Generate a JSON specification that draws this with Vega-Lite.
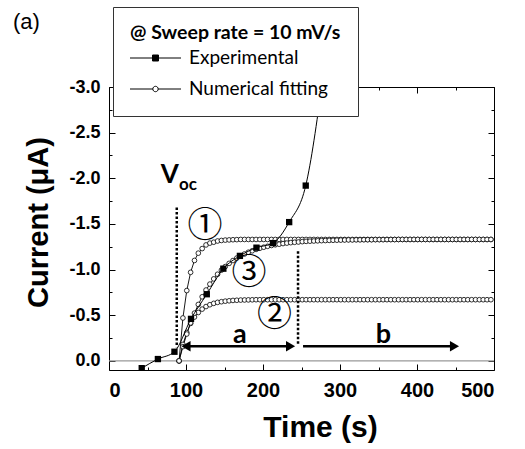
{
"$schema": "https://vega.github.io/schema/vega-lite/v6.json",
"width": 385, "height": 283,
"autosize": {"type": "none"},
"padding": {"left": 109, "top": 87, "right": 31, "bottom": 79},
"background": "white",
"config": {"view": {"stroke": "black", "strokeWidth": 1}},
"datasets": {
"exp": [{"t":42.5,"v":0.08},{"t":63.5,"v":-0.02},{"t":85,"v":-0.1},{"t":106.5,"v":-0.46},{"t":127,"v":-0.73},{"t":148.5,"v":-1.01},{"t":170,"v":-1.15},{"t":191.5,"v":-1.24},{"t":213,"v":-1.29},{"t":234,"v":-1.52},{"t":255.5,"v":-1.92},{"t":277,"v":-3.05}],
"fit": [
{"c":1,"t":91,"v":0},{"c":1,"t":96,"v":-0.47},{"c":1,"t":101,"v":-0.77},{"c":1,"t":106,"v":-0.97},{"c":1,"t":111,"v":-1.1},{"c":1,"t":116,"v":-1.18},{"c":1,"t":121,"v":-1.23},{"c":1,"t":126,"v":-1.27},{"c":1,"t":131,"v":-1.29},{"c":1,"t":136,"v":-1.3},{"c":1,"t":141,"v":-1.313},{"c":1,"t":146,"v":-1.319},{"c":1,"t":151,"v":-1.323},{"c":1,"t":156,"v":-1.325},{"c":1,"t":161,"v":-1.327},{"c":1,"t":166,"v":-1.328},
{"c":1,"t":171,"v":-1.33},{"c":1,"t":176,"v":-1.33},{"c":1,"t":181,"v":-1.33},{"c":1,"t":186,"v":-1.33},{"c":1,"t":191,"v":-1.33},{"c":1,"t":196,"v":-1.33},{"c":1,"t":201,"v":-1.33},{"c":1,"t":206,"v":-1.33},{"c":1,"t":211,"v":-1.33},{"c":1,"t":216,"v":-1.33},{"c":1,"t":221,"v":-1.33},{"c":1,"t":226,"v":-1.33},{"c":1,"t":231,"v":-1.33},{"c":1,"t":236,"v":-1.33},{"c":1,"t":241,"v":-1.33},{"c":1,"t":246,"v":-1.33},{"c":1,"t":251,"v":-1.33},{"c":1,"t":256,"v":-1.33},{"c":1,"t":261,"v":-1.33},{"c":1,"t":266,"v":-1.33},{"c":1,"t":271,"v":-1.33},{"c":1,"t":276,"v":-1.33},{"c":1,"t":281,"v":-1.33},{"c":1,"t":286,"v":-1.33},{"c":1,"t":291,"v":-1.33},{"c":1,"t":296,"v":-1.33},{"c":1,"t":301,"v":-1.33},{"c":1,"t":306,"v":-1.33},{"c":1,"t":311,"v":-1.33},{"c":1,"t":316,"v":-1.33},{"c":1,"t":321,"v":-1.33},{"c":1,"t":326,"v":-1.33},{"c":1,"t":331,"v":-1.33},{"c":1,"t":336,"v":-1.33},{"c":1,"t":341,"v":-1.33},{"c":1,"t":346,"v":-1.33},{"c":1,"t":351,"v":-1.33},{"c":1,"t":356,"v":-1.33},{"c":1,"t":361,"v":-1.33},{"c":1,"t":366,"v":-1.33},{"c":1,"t":371,"v":-1.33},{"c":1,"t":376,"v":-1.33},{"c":1,"t":381,"v":-1.33},{"c":1,"t":386,"v":-1.33},{"c":1,"t":391,"v":-1.33},{"c":1,"t":396,"v":-1.33},{"c":1,"t":401,"v":-1.33},{"c":1,"t":406,"v":-1.33},{"c":1,"t":411,"v":-1.33},{"c":1,"t":416,"v":-1.33},{"c":1,"t":421,"v":-1.33},{"c":1,"t":426,"v":-1.33},{"c":1,"t":431,"v":-1.33},{"c":1,"t":436,"v":-1.33},{"c":1,"t":441,"v":-1.33},{"c":1,"t":446,"v":-1.33},{"c":1,"t":451,"v":-1.33},{"c":1,"t":456,"v":-1.33},{"c":1,"t":461,"v":-1.33},{"c":1,"t":466,"v":-1.33},{"c":1,"t":471,"v":-1.33},{"c":1,"t":476,"v":-1.33},{"c":1,"t":481,"v":-1.33},{"c":1,"t":486,"v":-1.33},{"c":1,"t":491,"v":-1.33},{"c":1,"t":496,"v":-1.33},
{"c":2,"t":91,"v":0},{"c":2,"t":96,"v":-0.18},{"c":2,"t":101,"v":-0.31},{"c":2,"t":106,"v":-0.41},{"c":2,"t":111,"v":-0.48},{"c":2,"t":116,"v":-0.53},{"c":2,"t":121,"v":-0.567},{"c":2,"t":126,"v":-0.595},{"c":2,"t":131,"v":-0.615},{"c":2,"t":136,"v":-0.63},{"c":2,"t":141,"v":-0.641},{"c":2,"t":146,"v":-0.648},{"c":2,"t":151,"v":-0.654},{"c":2,"t":156,"v":-0.658},{"c":2,"t":161,"v":-0.662},{"c":2,"t":166,"v":-0.664},{"c":2,"t":171,"v":-0.666},{"c":2,"t":176,"v":-0.667},{"c":2,"t":181,"v":-0.668},{"c":2,"t":186,"v":-0.669},
{"c":2,"t":191,"v":-0.67},{"c":2,"t":196,"v":-0.67},{"c":2,"t":201,"v":-0.67},{"c":2,"t":206,"v":-0.67},{"c":2,"t":211,"v":-0.67},{"c":2,"t":216,"v":-0.67},{"c":2,"t":221,"v":-0.67},{"c":2,"t":226,"v":-0.67},{"c":2,"t":231,"v":-0.67},{"c":2,"t":236,"v":-0.67},{"c":2,"t":241,"v":-0.67},{"c":2,"t":246,"v":-0.67},{"c":2,"t":251,"v":-0.67},{"c":2,"t":256,"v":-0.67},{"c":2,"t":261,"v":-0.67},{"c":2,"t":266,"v":-0.67},{"c":2,"t":271,"v":-0.67},{"c":2,"t":276,"v":-0.67},{"c":2,"t":281,"v":-0.67},{"c":2,"t":286,"v":-0.67},{"c":2,"t":291,"v":-0.67},{"c":2,"t":296,"v":-0.67},{"c":2,"t":301,"v":-0.67},{"c":2,"t":306,"v":-0.67},{"c":2,"t":311,"v":-0.67},{"c":2,"t":316,"v":-0.67},{"c":2,"t":321,"v":-0.67},{"c":2,"t":326,"v":-0.67},{"c":2,"t":331,"v":-0.67},{"c":2,"t":336,"v":-0.67},{"c":2,"t":341,"v":-0.67},{"c":2,"t":346,"v":-0.67},{"c":2,"t":351,"v":-0.67},{"c":2,"t":356,"v":-0.67},{"c":2,"t":361,"v":-0.67},{"c":2,"t":366,"v":-0.67},{"c":2,"t":371,"v":-0.67},{"c":2,"t":376,"v":-0.67},{"c":2,"t":381,"v":-0.67},{"c":2,"t":386,"v":-0.67},{"c":2,"t":391,"v":-0.67},{"c":2,"t":396,"v":-0.67},{"c":2,"t":401,"v":-0.67},{"c":2,"t":406,"v":-0.67},{"c":2,"t":411,"v":-0.67},{"c":2,"t":416,"v":-0.67},{"c":2,"t":421,"v":-0.67},{"c":2,"t":426,"v":-0.67},{"c":2,"t":431,"v":-0.67},{"c":2,"t":436,"v":-0.67},{"c":2,"t":441,"v":-0.67},{"c":2,"t":446,"v":-0.67},{"c":2,"t":451,"v":-0.67},{"c":2,"t":456,"v":-0.67},{"c":2,"t":461,"v":-0.67},{"c":2,"t":466,"v":-0.67},{"c":2,"t":471,"v":-0.67},{"c":2,"t":476,"v":-0.67},{"c":2,"t":481,"v":-0.67},{"c":2,"t":486,"v":-0.67},{"c":2,"t":491,"v":-0.67},{"c":2,"t":496,"v":-0.67},
{"c":3,"t":91,"v":0},{"c":3,"t":96,"v":-0.156},{"c":3,"t":101,"v":-0.294},{"c":3,"t":106,"v":-0.416},{"c":3,"t":111,"v":-0.523},{"c":3,"t":116,"v":-0.618},{"c":3,"t":121,"v":-0.702},{"c":3,"t":126,"v":-0.776},{"c":3,"t":131,"v":-0.841},{"c":3,"t":136,"v":-0.898},{"c":3,"t":141,"v":-0.949},{"c":3,"t":146,"v":-0.994},{"c":3,"t":151,"v":-1.033},{"c":3,"t":156,"v":-1.068},{"c":3,"t":161,"v":-1.099},{"c":3,"t":166,"v":-1.126},{"c":3,"t":171,"v":-1.15},{"c":3,"t":176,"v":-1.171},{"c":3,"t":181,"v":-1.19},{"c":3,"t":186,"v":-1.206},{"c":3,"t":191,"v":-1.221},{"c":3,"t":196,"v":-1.234},{"c":3,"t":201,"v":-1.245},{"c":3,"t":206,"v":-1.255},{"c":3,"t":211,"v":-1.264},{"c":3,"t":216,"v":-1.272},{"c":3,"t":221,"v":-1.278},{"c":3,"t":226,"v":-1.285},{"c":3,"t":231,"v":-1.29},{"c":3,"t":236,"v":-1.295},{"c":3,"t":241,"v":-1.299},{"c":3,"t":246,"v":-1.302},{"c":3,"t":251,"v":-1.306},{"c":3,"t":256,"v":-1.309},{"c":3,"t":261,"v":-1.311},{"c":3,"t":266,"v":-1.313},{"c":3,"t":271,"v":-1.315},{"c":3,"t":276,"v":-1.317},{"c":3,"t":281,"v":-1.318},{"c":3,"t":286,"v":-1.32},{"c":3,"t":291,"v":-1.321},{"c":3,"t":296,"v":-1.322},{"c":3,"t":301,"v":-1.323},{"c":3,"t":306,"v":-1.324},{"c":3,"t":311,"v":-1.325},{"c":3,"t":316,"v":-1.325},{"c":3,"t":321,"v":-1.326},{"c":3,"t":326,"v":-1.326},{"c":3,"t":331,"v":-1.327},{"c":3,"t":336,"v":-1.327},{"c":3,"t":341,"v":-1.327},{"c":3,"t":346,"v":-1.328},{"c":3,"t":351,"v":-1.328},{"c":3,"t":356,"v":-1.328},{"c":3,"t":361,"v":-1.329},{"c":3,"t":366,"v":-1.329},{"c":3,"t":371,"v":-1.329},{"c":3,"t":376,"v":-1.33},{"c":3,"t":381,"v":-1.33},{"c":3,"t":386,"v":-1.33},{"c":3,"t":391,"v":-1.33},{"c":3,"t":396,"v":-1.33},{"c":3,"t":401,"v":-1.33},{"c":3,"t":406,"v":-1.33},{"c":3,"t":411,"v":-1.33},{"c":3,"t":416,"v":-1.33},{"c":3,"t":421,"v":-1.33},{"c":3,"t":426,"v":-1.33},{"c":3,"t":431,"v":-1.33},{"c":3,"t":436,"v":-1.33},{"c":3,"t":441,"v":-1.33},{"c":3,"t":446,"v":-1.33},{"c":3,"t":451,"v":-1.33},{"c":3,"t":456,"v":-1.33},{"c":3,"t":461,"v":-1.33},{"c":3,"t":466,"v":-1.33},{"c":3,"t":471,"v":-1.33},{"c":3,"t":476,"v":-1.33},{"c":3,"t":481,"v":-1.33},{"c":3,"t":486,"v":-1.33},{"c":3,"t":491,"v":-1.33},{"c":3,"t":496,"v":-1.33}
],
"zero": [{"t":0,"t2":500,"v":0}],
"vlines": [{"t":88,"v":-1.68,"v2":-0.15},{"t":245.5,"v":-1.2,"v2":-0.17}],
"arrows": [{"t":97,"t2":236,"v":-0.16},{"t":252,"t2":449,"v":-0.16}],
"heads": [{"t":100,"v":-0.16,"d":"left"},{"t":235.8,"v":-0.16,"d":"right"},{"t":448.7,"v":-0.16,"d":"right"}],
"notes": [{"k":"V","label":"V","t":79,"v":-1.95},{"k":"sub","label":"oc","t":102.6,"v":-1.87},{"k":"ab","label":"a","t":170,"v":-0.2},{"k":"ab","label":"b","t":356.5,"v":-0.2},{"k":"circ","label":"①","t":124.7,"v":-1.48},{"k":"circ","label":"③","t":181.8,"v":-0.96},{"k":"circ","label":"②","t":214.9,"v":-0.5},{"k":"panel","label":"(a)","t":-124.7,"v":-3.64}],
"series": [{"s":"Experimental"},{"s":"Numerical fitting"}]
},
"encoding": {
"x": {"field":"t","type":"quantitative","scale":{"domain":[0,500],"nice":false,"zero":false},"axis":null},
"y": {"field":"v","type":"quantitative","scale":{"domain":[-3,0.1],"reverse":true,"nice":false,"zero":false},"axis":null}
},
"layer": [
{"data":{"name":"zero"},"mark":{"type":"rule","color":"#999999","strokeWidth":1.2},"encoding":{"x2":{"field":"t2"}}},
{"data":{"name":"fit"},"mark":{"type":"line","color":"black","strokeWidth":0.9},
 "encoding":{
  "x":{"field":"t","type":"quantitative","scale":{"domain":[0,500],"nice":false,"zero":false},
   "axis":{"orient":"bottom","values":[0,50,100,150,200,250,300,350,400,450,500],"labelExpr":"datum.value % 100 === 0 ? datum.label : ''","domain":false,"grid":false,"tickColor":"black","tickSize":{"condition":{"test":"datum.value % 100 === 0","value":-6},"value":-3},"labelFont":"Liberation Sans","labelFontSize":20,"labelFontWeight":"bold","labelColor":"black","labelPadding":16,"title":"Time (s)","titleFont":"Liberation Sans","titleFontSize":30,"titleFontWeight":"bold","titleColor":"black","titlePadding":12,"titleX":211,"titleAlign":"center"}},
  "y":{"field":"v","type":"quantitative","scale":{"domain":[-3,0.1],"reverse":true,"nice":false,"zero":false},
   "axis":{"orient":"left","values":[-3,-2.75,-2.5,-2.25,-2,-1.75,-1.5,-1.25,-1,-0.75,-0.5,-0.25,0],"format":".1f","labelExpr":"abs(datum.value*2 - round(datum.value*2)) < 0.001 ? replace(datum.label, '−', '-') : ''","domain":false,"grid":false,"tickColor":"black","tickSize":{"condition":{"test":"abs(datum.value*2 - round(datum.value*2)) < 0.001","value":-6},"value":-3},"labelFont":"Liberation Sans","labelFontSize":18,"labelFontWeight":"bold","labelColor":"black","labelPadding":15,"title":"Current (μA)","titleFont":"Liberation Sans","titleFontSize":29,"titleFontWeight":"bold","titleColor":"black","titlePadding":15,"titleY":135,"titleAlign":"center"}},
  "detail":{"field":"c","type":"nominal"}}},
{"data":{"name":"fit"},"mark":{"type":"point","shape":"circle","filled":true,"fill":"white","stroke":"black","strokeWidth":0.8,"size":22,"opacity":1},
 "encoding":{
  "x":{"field":"t","type":"quantitative","scale":{"domain":[0,500],"nice":false,"zero":false},
   "axis":{"orient":"top","values":[0,50,100,150,200,250,300,350,400,450,500],"labels":false,"domain":false,"grid":false,"tickColor":"black","tickSize":{"condition":{"test":"datum.value % 100 === 0","value":-6},"value":-3},"title":null}},
  "y":{"field":"v","type":"quantitative","scale":{"domain":[-3,0.1],"reverse":true,"nice":false,"zero":false},
   "axis":{"orient":"right","values":[-3,-2.75,-2.5,-2.25,-2,-1.75,-1.5,-1.25,-1,-0.75,-0.5,-0.25,0],"labels":false,"domain":false,"grid":false,"tickColor":"black","tickSize":{"condition":{"test":"abs(datum.value*2 - round(datum.value*2)) < 0.001","value":-6},"value":-3},"title":null}}}},
{"data":{"name":"exp"},"mark":{"type":"line","color":"black","strokeWidth":1,"interpolate":"monotone","clip":true}},
{"data":{"name":"exp"},"mark":{"type":"point","shape":"square","filled":true,"color":"black","size":40,"opacity":1,"clip":true}},
{"data":{"name":"vlines"},"mark":{"type":"rule","color":"black","strokeWidth":2.5,"strokeDash":[2.5,2]},"encoding":{"y2":{"field":"v2"}}},
{"data":{"name":"arrows"},"mark":{"type":"rule","color":"black","strokeWidth":2.5},"encoding":{"x2":{"field":"t2"}}},
{"data":{"name":"heads"},"transform":[{"filter":"datum.d === 'left'"}],"mark":{"type":"point","shape":"triangle-left","filled":true,"color":"black","size":110,"opacity":1}},
{"data":{"name":"heads"},"transform":[{"filter":"datum.d === 'right'"}],"mark":{"type":"point","shape":"triangle-right","filled":true,"color":"black","size":110,"opacity":1}},
{"data":{"name":"notes"},"transform":[{"filter":"datum.k === 'V'"}],"mark":{"type":"text","font":"Lato","fontWeight":"bold","fontSize":26,"align":"center","baseline":"alphabetic","color":"black"},"encoding":{"text":{"field":"label"}}},
{"data":{"name":"notes"},"transform":[{"filter":"datum.k === 'sub'"}],"mark":{"type":"text","font":"Lato","fontWeight":"bold","fontSize":17,"align":"center","baseline":"alphabetic","color":"black"},"encoding":{"text":{"field":"label"}}},
{"data":{"name":"notes"},"transform":[{"filter":"datum.k === 'ab'"}],"mark":{"type":"text","font":"Lato","fontWeight":"bold","fontSize":27,"align":"center","baseline":"alphabetic","color":"black"},"encoding":{"text":{"field":"label"}}},
{"data":{"name":"notes"},"transform":[{"filter":"datum.k === 'circ'"}],"mark":{"type":"text","font":"Noto Sans CJK JP","fontSize":35,"align":"center","baseline":"middle","color":"black"},"encoding":{"text":{"field":"label"}}},
{"data":{"name":"notes"},"transform":[{"filter":"datum.k === 'panel'"}],"mark":{"type":"text","font":"Liberation Sans","fontSize":22,"align":"left","baseline":"alphabetic","color":"black","clip":false},"encoding":{"text":{"field":"label"}}},
{"data":{"name":"series"},"mark":{"type":"point","filled":true,"strokeWidth":1,"opacity":1},
 "encoding":{
  "shape":{"field":"s","type":"nominal","scale":{"domain":["Experimental","Numerical fitting"],"range":["M-8.5,0H8.5M-1,-1H1V1H-1Z","M-8.5,0H-0.9M0.9,0H8.5M-0.9,0A0.9,0.9,0,1,1,0.9,0A0.9,0.9,0,1,1,-0.9,0Z"]},
   "legend":{"title":"@ Sweep rate = 10 mV/s","orient":"none","legendX":4,"legendY":-80,"direction":"vertical","fillColor":"white","strokeColor":"#333333","padding":17,"titleFont":"Lato","titleFontSize":19.5,"titleFontWeight":"bold","titleColor":"black","titlePadding":5,"titleLimit":400,"labelFont":"Lato","labelFontSize":19,"labelColor":"black","labelLimit":400,"symbolSize":36,"symbolOffset":16,"labelOffset":24,"rowPadding":11,"symbolStrokeWidth":1}},
  "fill":{"field":"s","type":"nominal","scale":{"domain":["Experimental","Numerical fitting"],"range":["black","white"]},
   "legend":{"title":"@ Sweep rate = 10 mV/s","orient":"none","legendX":4,"legendY":-80,"direction":"vertical","fillColor":"white","strokeColor":"#333333","padding":17,"titleFont":"Lato","titleFontSize":19.5,"titleFontWeight":"bold","titleColor":"black","titlePadding":5,"titleLimit":400,"labelFont":"Lato","labelFontSize":19,"labelColor":"black","labelLimit":400,"symbolSize":36,"symbolOffset":16,"labelOffset":24,"rowPadding":11,"symbolStrokeWidth":1}},
  "stroke":{"field":"s","type":"nominal","scale":{"domain":["Experimental","Numerical fitting"],"range":["black","black"]},
   "legend":{"title":"@ Sweep rate = 10 mV/s","orient":"none","legendX":4,"legendY":-80,"direction":"vertical","fillColor":"white","strokeColor":"#333333","padding":17,"titleFont":"Lato","titleFontSize":19.5,"titleFontWeight":"bold","titleColor":"black","titlePadding":5,"titleLimit":400,"labelFont":"Lato","labelFontSize":19,"labelColor":"black","labelLimit":400,"symbolSize":36,"symbolOffset":16,"labelOffset":24,"rowPadding":11,"symbolStrokeWidth":1}}}}
]
}
